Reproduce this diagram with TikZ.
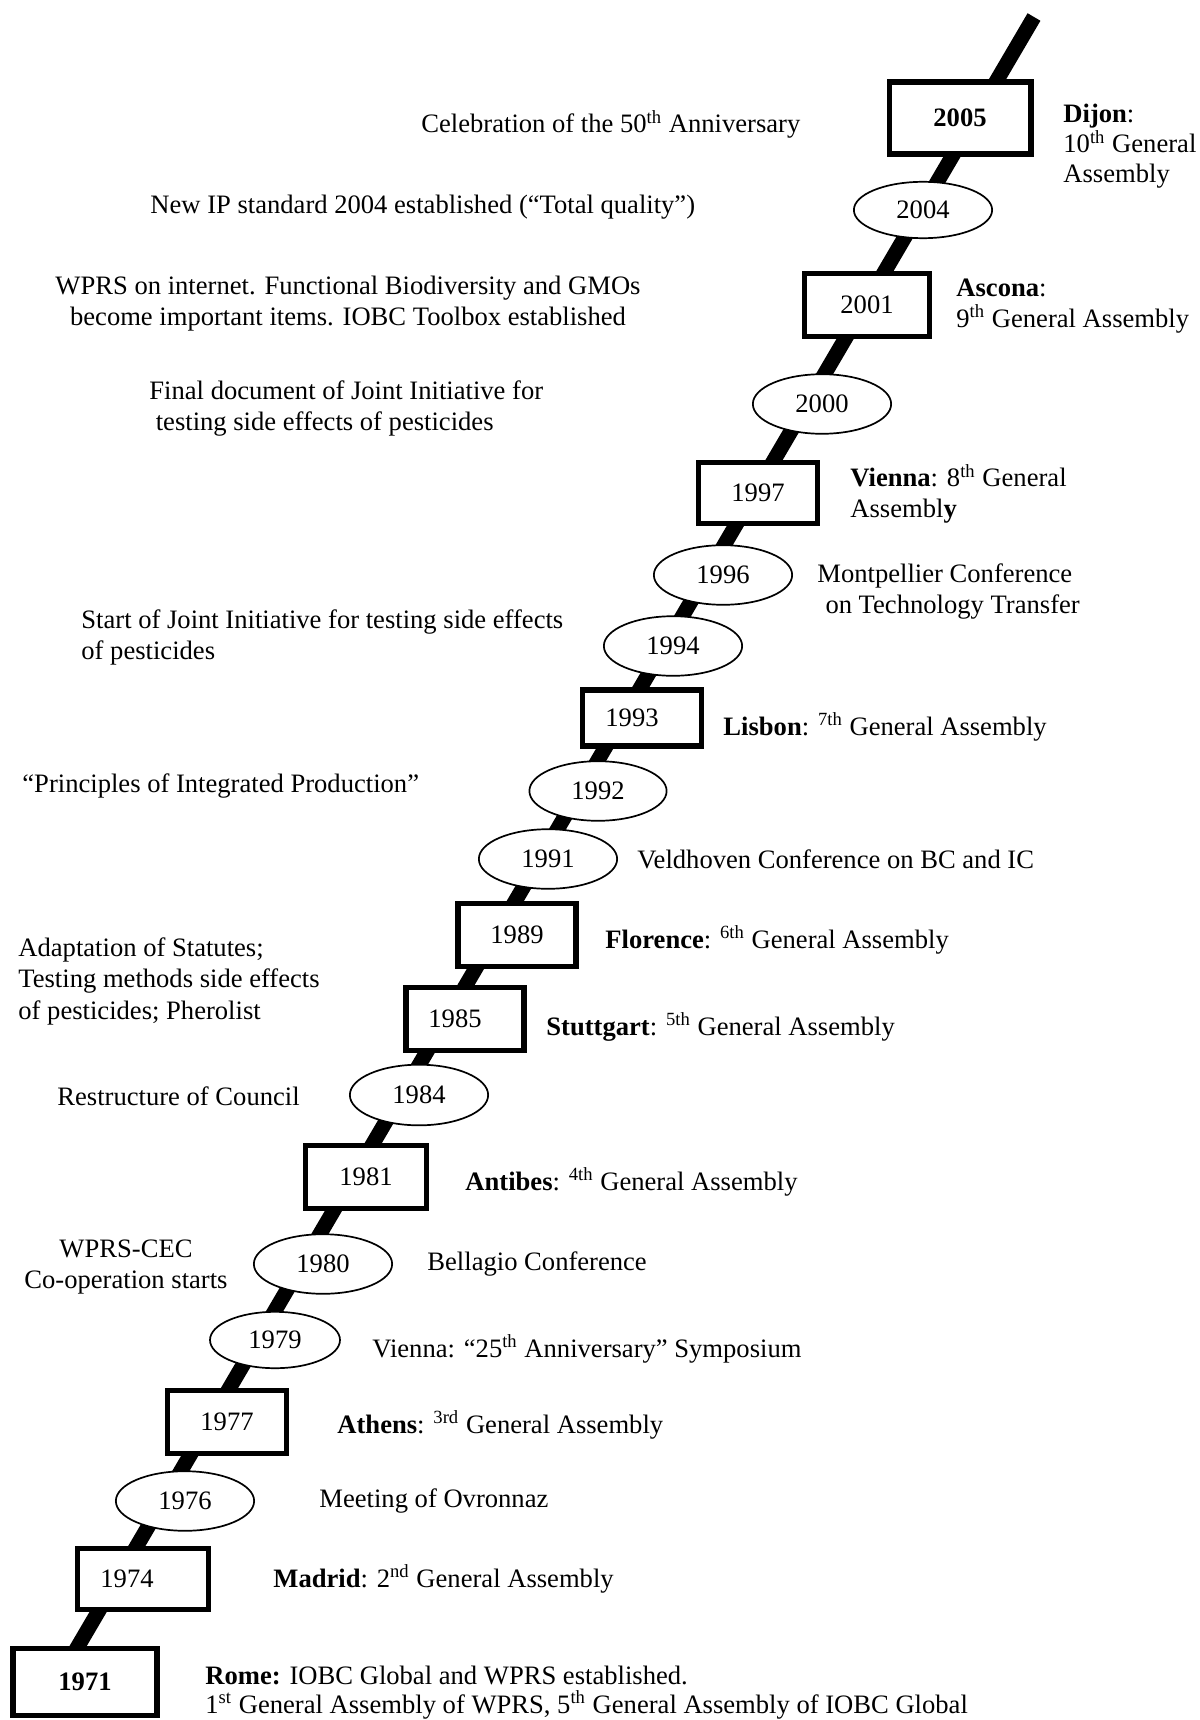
\documentclass[tikz,border=0pt]{standalone}
\usepackage{fontspec}
\setmainfont{Liberation Serif}
\usepackage{tikz}
\usetikzlibrary{shapes}
\tikzstyle{spine}=[line width=7pt]
\tikzstyle{yearbox}=[draw, rectangle, line width=2.4pt, fill=white, inner sep=0pt]
\tikzstyle{yearoval}=[draw, ellipse, line width=0.8pt, fill=white, inner sep=0pt]
\tikzstyle{event}=[anchor=base west, inner sep=0pt, align=left]
\newcommand{\sth}[1]{\textsuperscript{#1}}

\begin{document}
\begin{tikzpicture}[x=0.47pt,y=-0.47pt,font=\fontsize{12.5}{14.2}\selectfont]
\useasboundingbox (0,0) rectangle (1199,1720);
\coordinate (spinetop) at (1034,17);
\coordinate (spinefoot) at (57,1682);
\draw[spine] (spinetop) -- (spinefoot);

% general assemblies
\node[yearbox, line width=2.8pt, minimum width=66.3pt, minimum height=33.4pt] (n2005) at (960,118) {\textbf{2005}};
\foreach \yr/\x/\y/\w/\h/\s in {2001/867/305/58.8/29.6/0, 1997/758/493/56/29/0, 1993/642/718/56/26.3/9.4,
	1989/517/935/55.5/30/0, 1985/465/1019/55.5/30/9.4, 1981/366/1177/57/30/0,
	1977/227/1422/56/29.5/0, 1974/143/1579/61.6/29/15} {
	\node[yearbox, minimum width=\w pt, minimum height=\h pt] (n\yr) at (\x,\y) {\yr\hspace*{\s pt}};
}
\node[yearbox, minimum width=67.7pt, minimum height=31.5pt] (n1971) at (85,1682) {\textbf{1971}};

% other events
\foreach \yr/\x/\y/\w/\h in {2004/923/210/65/26.5, 2000/822/404/65/28, 1996/723/575/65/28,
	1994/673/646/65/28, 1992/598/791/64.5/28, 1991/548/859/65/28, 1984/419/1095/65/28.5,
	1980/323/1264/65/28, 1979/275/1340/61.1/26.5, 1976/185/1501/65/28} {
	\node[yearoval, minimum width=\w pt, minimum height=\h pt] (n\yr) at (\x,\y) {\yr};
}

\node[event] (e2005) at (1063,183) {\textbf{Dijon}:\\10\sth{th} General\\Assembly};
\node[event] (e2001) at (956,327) {\textbf{Ascona}:\\9\sth{th} General Assembly};
\node[event] (e1997) at (850,517) {\textbf{Vienna}: 8\sth{th} General\\Assembl\textbf{y}};
\node[event] (e1996) at (817,613) {Montpellier Conference\\\hspace*{3.8pt}on Technology Transfer};
\node[event] (e1993) at (723,735) {\textbf{Lisbon}: \sth{7th} General Assembly};
\node[event] (e1991) at (637,868) {Veldhoven Conference on BC and IC};
\node[event] (e1989) at (605,948) {\textbf{Florence}: \sth{6th} General Assembly};
\node[event] (e1985) at (546,1035) {\textbf{Stuttgart}: \sth{5th} General Assembly};
\node[event] (e1981) at (465,1190) {\textbf{Antibes}: \sth{4th} General Assembly};
\node[event] (e1980) at (427,1270) {Bellagio Conference};
\node[event] (e1979) at (372,1357) {Vienna: “25\sth{th} Anniversary” Symposium};
\node[event] (e1977) at (337,1433) {\textbf{Athens}: \sth{3rd} General Assembly};
\node[event] (e1976) at (319,1507) {Meeting of Ovronnaz};
\node[event] (e1974) at (273,1587) {\textbf{Madrid}: 2\sth{nd} General Assembly};
\node[event] (e1971) at (205,1713) {\textbf{Rome:} IOBC Global and WPRS established.\\[-1pt]1\sth{st} General Assembly of WPRS, 5\sth{th} General Assembly of IOBC Global};

\node[event] (c2005) at (421,133) {Celebration of the 50\sth{th} Anniversary};
\node[event] (c2004) at (150,214) {New IP standard 2004 established (“Total quality”)};
\node[event, anchor=base, align=center] (c2001) at (348,325) {WPRS on internet. Functional Biodiversity and GMOs\\become important items. IOBC Toolbox established};
\node[event] (c2000) at (149,430) {Final document of Joint Initiative for\\\hspace*{3pt}testing side effects of pesticides};
\node[event] (c1994) at (81,659) {Start of Joint Initiative for testing side effects\\of pesticides};
\node[event] (c1992) at (22,792) {“Principles of Integrated Production”};
\node[event] (c1985) at (18,1019) {Adaptation of Statutes;\\[0.5pt]Testing methods side effects\\[0.5pt]of pesticides; Pherolist};
\node[event] (c1984) at (57,1105) {Restructure of Council};
\node[event, anchor=base, align=center] (c1980) at (126,1288) {WPRS-CEC\\Co-operation starts};
\end{tikzpicture}
\end{document}
